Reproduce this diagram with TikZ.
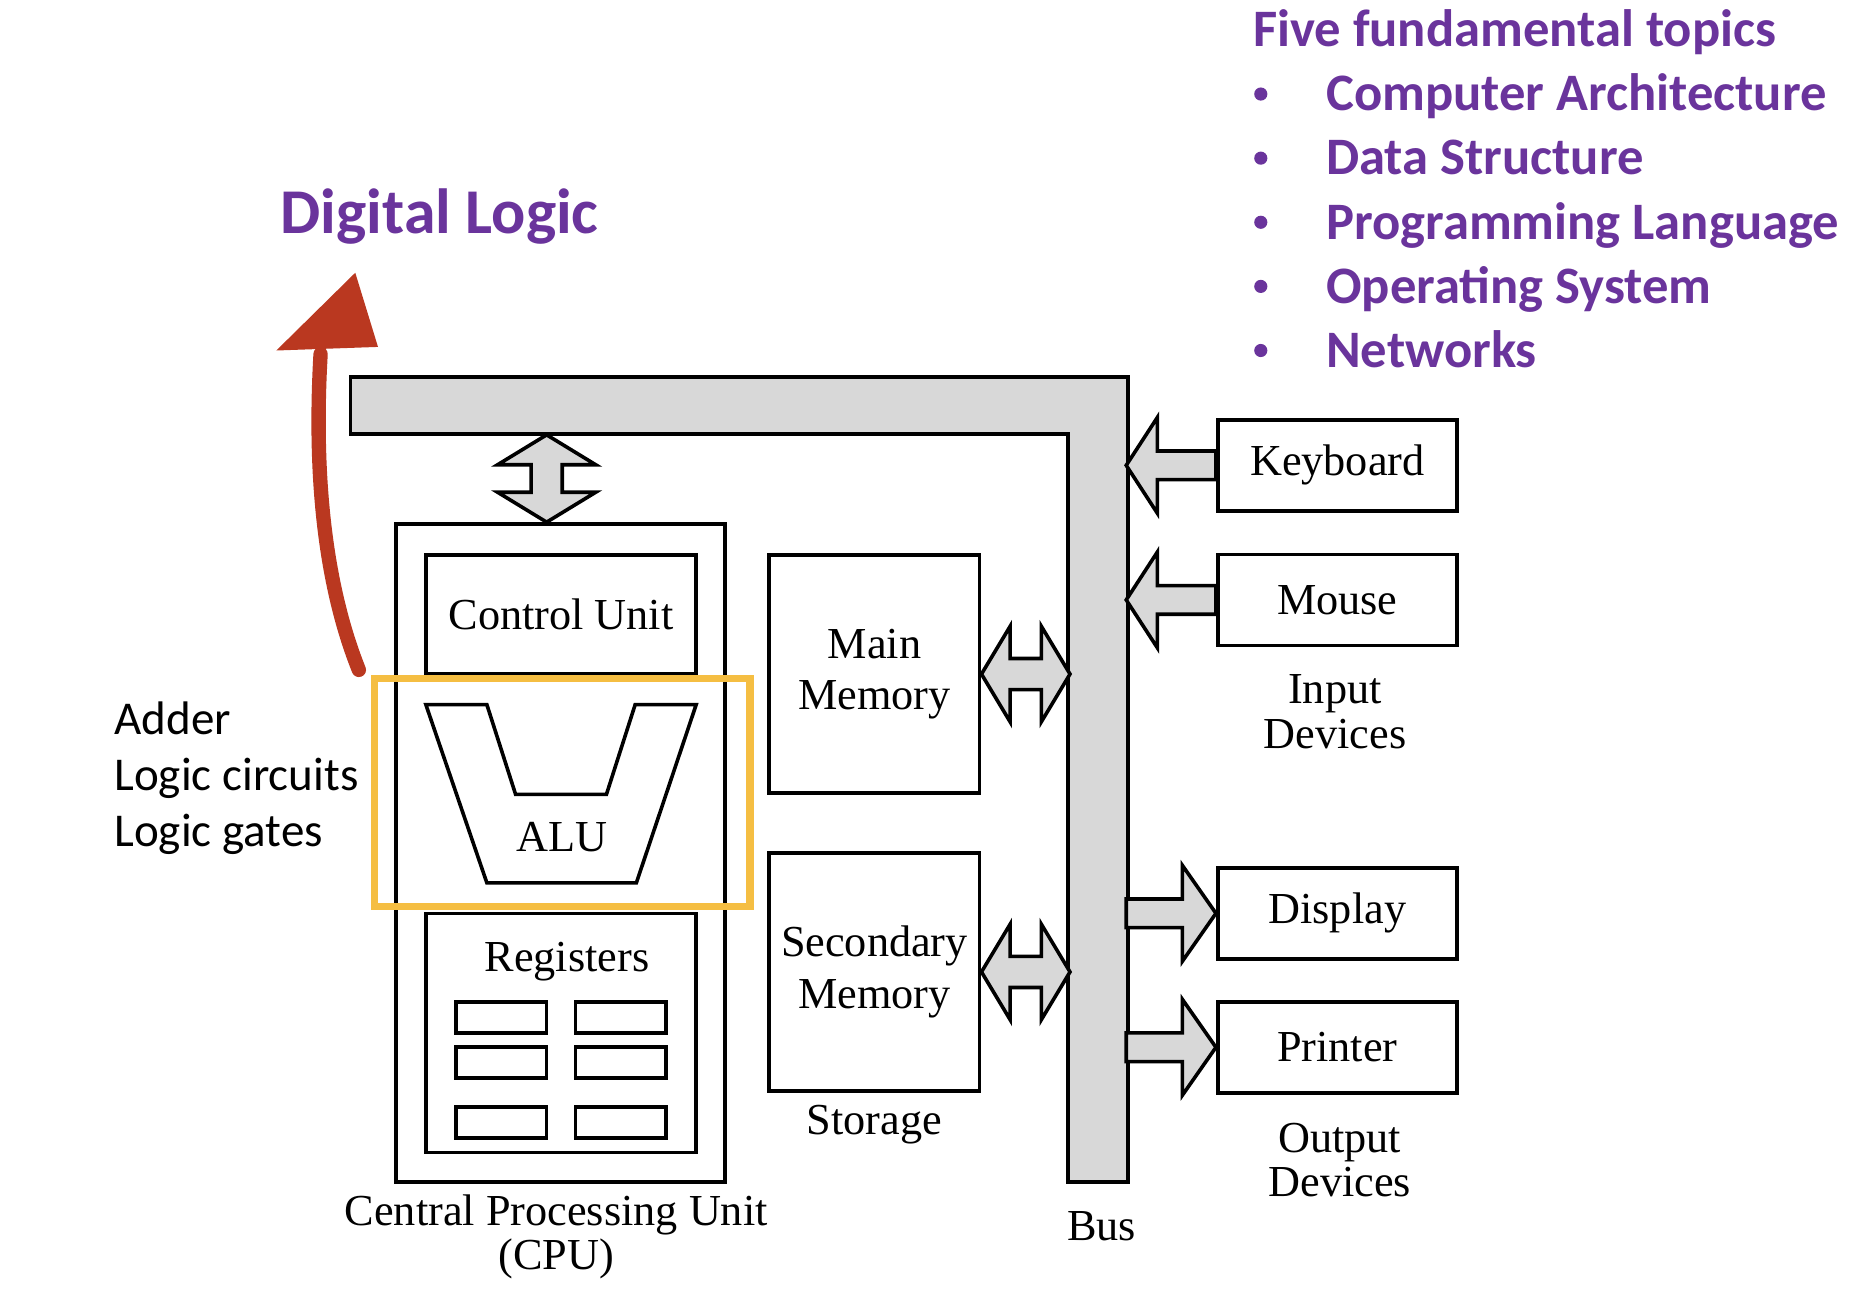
\documentclass[tikz,border=0pt]{standalone}
\usepackage{fontspec}
\setmainfont{Liberation Serif}
\newfontfamily\calibri{Carlito}
\usepackage{tikz}
\usetikzlibrary{calc}
\usetikzlibrary{positioning}
\definecolor{busgray}{RGB}{216,216,216}
\definecolor{topicpurple}{RGB}{106,52,156}
\definecolor{hilite}{RGB}{245,190,66}
\definecolor{penred}{RGB}{186,56,32}
\tikzset{>=latex}
\tikzstyle{unitbox} = [rectangle, draw = black, line width = 0.9pt, inner sep = 0, align = center, font = \fontsize{11.1}{12.6}\selectfont]
\tikzstyle{caption} = [draw = none, inner sep = 0, align = center, font = \fontsize{11.1}{11.1}\selectfont]
\tikzstyle{fat} = [draw = black, line width = 0.9pt, fill = busgray, line join = miter]
\tikzstyle{reg} = [rectangle, draw = black, line width = 0.9pt, minimum width = 22.8pt, minimum height = 7.8pt, inner sep = 0]
\tikzstyle{topic} = [draw = none, inner sep = 0, anchor = base west, text = topicpurple, font = \calibri\bfseries\fontsize{13.2}{13.2}\selectfont]
\tikzstyle{dot} = [circle, fill = topicpurple, inner sep = 0, minimum size = 3.3pt]
\tikzstyle{note} = [draw = none, inner sep = 0, anchor = base west, font = \calibri\fontsize{11.8}{11.8}\selectfont]

\begin{document}
\begin{tikzpicture}[x = 0.3pt, y = -0.3pt]
\useasboundingbox (0, 0) rectangle (1568.3, 1095.2);

% bus
\draw [fat] (293, 315) -- (943, 315) -- (943, 988) -- (893, 988) -- (893, 363) -- (293, 363) -- cycle;
\node [caption] (bus) at (921, 1025) {Bus};

% cpu
\node [unitbox, minimum width = 82.5pt, minimum height = 165pt] (cpu) at (468.5, 713) {};
\node [unitbox, minimum width = 67.8pt, minimum height = 29.7pt] (cu) at (469, 513.5) {Control Unit};
\draw [line width = 0.9pt, line join = miter] (356, 589) -- (407, 589) -- (431, 664) -- (507, 664) -- (531, 589) -- (582, 589) -- (532, 738) -- (407, 738) -- cycle;
\node [caption] (alu) at (470, 700) {ALU};
\node [unitbox, minimum width = 67.8pt, minimum height = 60pt] (regs) at (469, 863.5) {};
\node [caption, anchor = base] (regtext) at (474, 812) {Registers};
\foreach \y in {850.5, 888.2, 938.3}
  \foreach \x in {419, 519}
    \node [reg] at (\x, \y) {};
\node [caption] (cpulabel) at (465, 1034) {Central Processing Unit\\(CPU)};
\draw [fat] ($(cpu.north) + (-11.5, 0)$) -- ++(-41, -25) -- ++(28, 0) -- ++(0, -23) -- ++(-28, 0) -- ++(41, -25) -- ++(41, 25) -- ++(-28, 0) -- ++(0, 23) -- ++(28, 0) -- cycle;

% memory
\node [unitbox, minimum width = 52.8pt, minimum height = 59.7pt] (mm) at (731, 563.5) {Main\\Memory};
\node [unitbox, minimum width = 52.8pt, minimum height = 59.7pt, font = \fontsize{11.1}{12.9}\selectfont] (sm) at (731, 812.5) {Secondary\\Memory};
\node [caption] (storage) at (731, 940) {Storage};
\draw [fat] (mm.east) -- ++(24, -40) -- ++(0, 27) -- ++(26, 0) -- ++(0, -27) -- ++(24, 40) -- ++(-24, 40) -- ++(0, -27) -- ++(-26, 0) -- ++(0, 27) -- cycle;
\draw [fat] (sm.east) -- ++(24, -40) -- ++(0, 27) -- ++(26, 0) -- ++(0, -27) -- ++(24, 40) -- ++(-24, 40) -- ++(0, -27) -- ++(-26, 0) -- ++(0, 27) -- cycle;

% devices
\node [unitbox, minimum width = 60pt, minimum height = 22.8pt] (kbd) at (1118, 389) {Keyboard};
\node [unitbox, minimum width = 60pt, minimum height = 22.8pt] (mouse) at (1118, 501.5) {Mouse};
\node [unitbox, minimum width = 60pt, minimum height = 22.8pt] (disp) at (1118, 763.5) {Display};
\node [unitbox, minimum width = 60pt, minimum height = 22.8pt] (prn) at (1118, 875.5) {Printer};
\node [caption] (input) at (1116, 595) {Input\\Devices};
\node [caption] (output) at (1120, 970) {Output\\Devices};
\foreach \dev in {kbd, mouse}
  \draw [fat] (\dev.west) -- ++(0, -12) -- ++(-49, 0) -- ++(0, -28) -- ++(-26, 40) -- ++(26, 40) -- ++(0, -28) -- ++(49, 0) -- cycle;
\foreach \dev in {disp, prn}
  \draw [fat] (\dev.west) -- ++(-28, -40) -- ++(0, 28) -- ++(-47, 0) -- ++(0, 24) -- ++(47, 0) -- ++(0, 28) -- cycle;

% alu highlight and notes
\node [rectangle, draw = hilite, line width = 1.8pt, minimum width = 94.2pt, minimum height = 57.3pt, inner sep = 0] (alubox) at (470, 662.5) {};
\node [note] (adder) at (95, 613.6) {Adder};
\node [note] (circuits) at (95, 660.5) {Logic circuits};
\node [note] (gates) at (95, 708) {Logic gates};

% digital logic arrow
\node [topic, font = \calibri\bfseries\fontsize{16}{16}\selectfont] (dl) at (234, 195.5) {Digital Logic};
\coordinate (penTip) at (297, 228);
\draw [penred, line width = 3.6pt, line cap = round] ($(alubox.north west) + (-10, -4)$) .. controls (272, 490) and (262, 400) .. (268, 296);
\fill [penred] (penTip) -- (231, 293) -- (316, 290) -- cycle;

% topics
\node [topic] (five) at (1047, 39) {Five fundamental topics};
\foreach \t [count = \i] in {Computer Architecture, Data Structure, Programming Language, Operating System, Networks} {
  \node [topic] (t\i) at (1108, 39 + 53.6*\i) {\t};
  \node [dot] (b\i) at (1054, 25 + 53.6*\i) {};
}
\end{tikzpicture}
\end{document}
